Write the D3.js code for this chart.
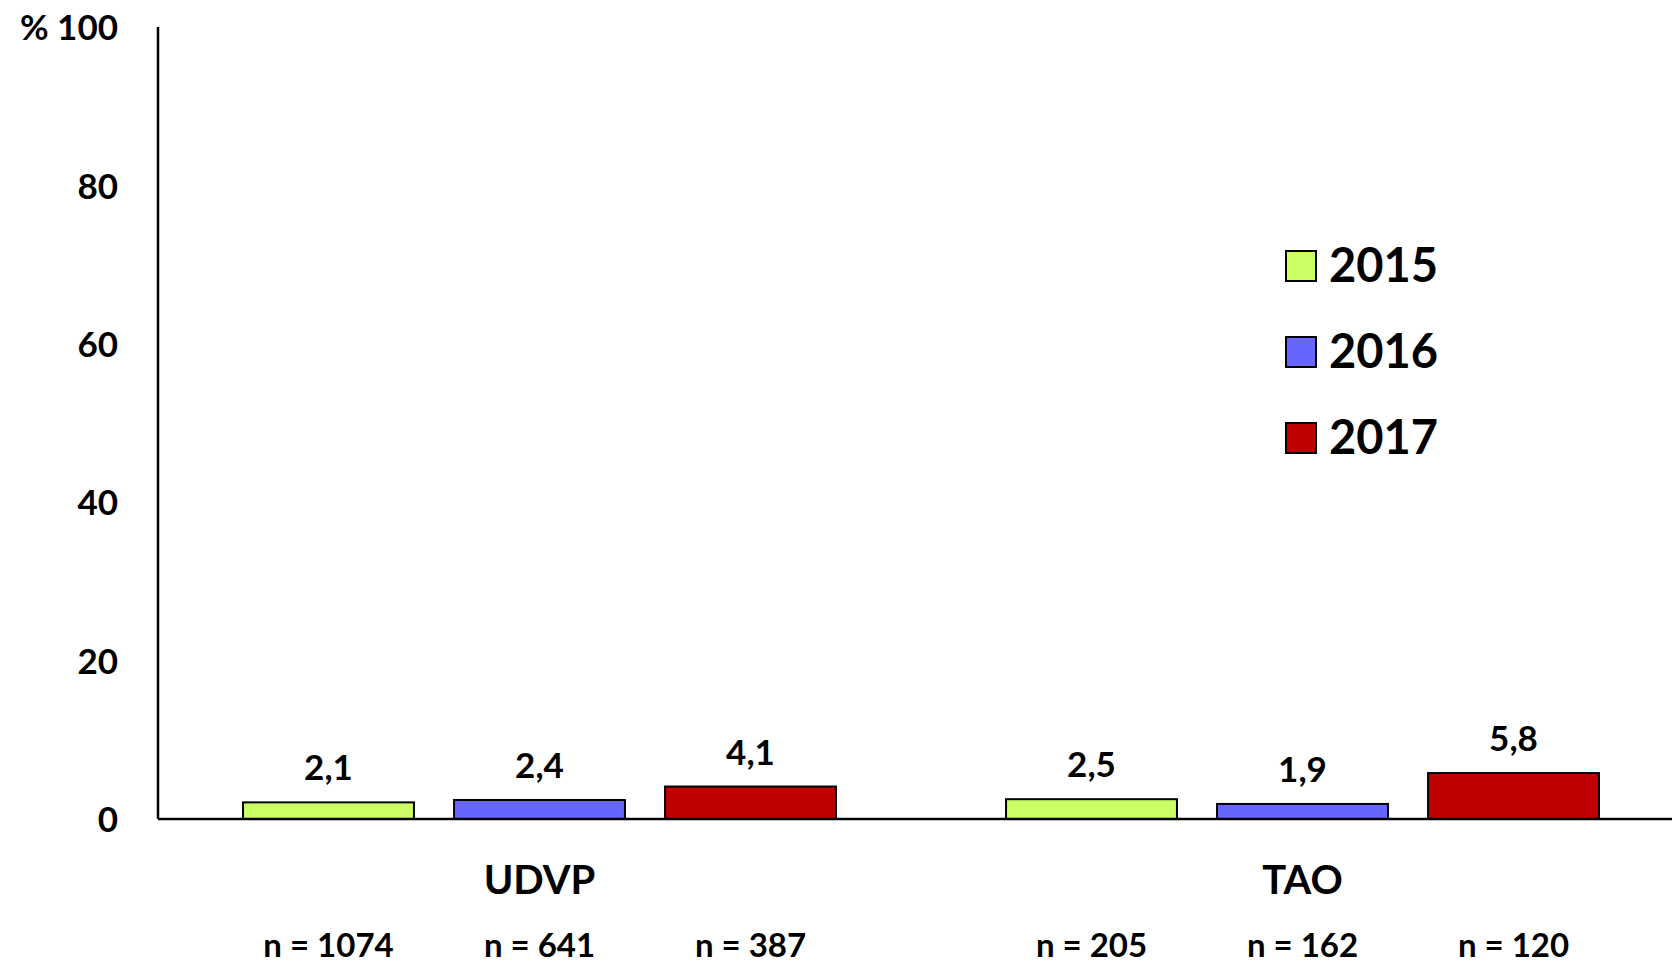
<!DOCTYPE html>
<html>
<head>
<meta charset="utf-8">
<script src="https://cdn.jsdelivr.net/npm/d3@7"></script>
<style>
  body { margin: 0; background: #fff; }
  text { font-family: Lato, "Open Sans", sans-serif; font-weight: bold; fill: #000; }
</style>
</head>
<body>
<div id="chart"></div>
<script>
var groups = ['UDVP', 'TAO'];
var years = ['2015', '2016', '2017'];
var colors = ['#ccff66', '#6666ff', '#c00000'];
var values = {
  UDVP: [2.1, 2.4, 4.1],
  TAO: [2.5, 1.9, 5.8]
};
var counts = {
  UDVP: [1074, 641, 387],
  TAO: [205, 162, 120]
};
var yTicks = [0, 20, 40, 60, 80, 100];

var chartWidth = 1672;
var chartHeight = 963;
var plotLeft = 158;
var plotRight = 1684;   // plot runs a bit past the picture edge
var plotTop = 27;
var plotBottom = 819;

var svg = d3.select('#chart')
    .append('svg')
    .attr('width', chartWidth)
    .attr('height', chartHeight);

// Scales
var scaleX = d3.scaleBand()
    .domain(groups)
    .range([plotLeft, plotRight])
    .padding(0);

var scaleInner = d3.scaleBand()
    .domain(years)
    .range([0, scaleX.bandwidth()])
    .paddingInner(0.19)
    .paddingOuter(0.403);

var scaleY = d3.scaleLinear()
    .domain([0, 100])
    .range([plotBottom, plotTop]);

var color = d3.scaleOrdinal()
    .domain(years)
    .range(colors);

// Y axis (labels only, plain line)
var yAxis = d3.axisLeft(scaleY)
    .tickValues(yTicks)
    .tickSize(0)
    .tickPadding(40)
    .tickFormat(function(d) {
      return d === 100 ? '% 100' : d;
    });

svg.append('g')
    .attr('transform', 'translate(' + plotLeft + ',0)')
    .call(yAxis)
    .call(function(g) {
      g.select('.domain').remove();
      g.selectAll('text')
          .attr('font-family', 'Lato, sans-serif')
          .attr('font-weight', 'bold')
          .attr('font-size', 35)
          .attr('dy', '0.36em')
          .attr('fill', '#000');
    });

svg.append('line')
    .attr('x1', plotLeft)
    .attr('x2', plotLeft)
    .attr('y1', plotTop)
    .attr('y2', plotBottom)
    .attr('stroke', '#000')
    .attr('stroke-width', 2.5);

// Flatten data
var rows = [];
groups.forEach(function(g) {
  years.forEach(function(y, i) {
    rows.push({group: g, year: y, value: values[g][i], n: counts[g][i]});
  });
});

function barX(d) {
  return scaleX(d.group) + scaleInner(d.year);
}

// Bars
svg.selectAll('rect.bar')
    .data(rows)
    .enter()
    .append('rect')
    .attr('class', 'bar')
    .attr('x', barX)
    .attr('y', function(d) { return scaleY(d.value); })
    .attr('width', scaleInner.bandwidth())
    .attr('height', function(d) { return scaleY(0) - scaleY(d.value); })
    .attr('fill', function(d) { return color(d.year); })
    .attr('stroke', '#000')
    .attr('stroke-width', 2);

// Baseline
svg.append('line')
    .attr('x1', plotLeft)
    .attr('x2', plotRight)
    .attr('y1', plotBottom)
    .attr('y2', plotBottom)
    .attr('stroke', '#000')
    .attr('stroke-width', 2.5);

// Value labels
svg.selectAll('text.val')
    .data(rows)
    .enter()
    .append('text')
    .attr('class', 'val')
    .attr('x', function(d) { return barX(d) + scaleInner.bandwidth() / 2; })
    .attr('y', function(d) { return scaleY(d.value) - 22; })
    .attr('text-anchor', 'middle')
    .attr('font-size', 35)
    .text(function(d) { return String(d.value).replace('.', ','); });

// n labels
svg.selectAll('text.n')
    .data(rows)
    .enter()
    .append('text')
    .attr('class', 'n')
    .attr('x', function(d) { return barX(d) + scaleInner.bandwidth() / 2; })
    .attr('y', 957)
    .attr('text-anchor', 'middle')
    .attr('font-size', 33)
    .text(function(d) { return 'n = ' + d.n; });

// Group labels
svg.selectAll('text.grp')
    .data(groups)
    .enter()
    .append('text')
    .attr('class', 'grp')
    .attr('x', function(d) { return scaleX(d) + scaleX.bandwidth() / 2; })
    .attr('y', 894)
    .attr('text-anchor', 'middle')
    .attr('font-size', 40)
    .text(function(d) { return d; });

// Legend
var legend = svg.append('g')
    .attr('transform', 'translate(1286,251)');

var item = legend.selectAll('g')
    .data(years)
    .enter()
    .append('g')
    .attr('transform', function(d, i) { return 'translate(0,' + i * 86 + ')'; });

item.append('rect')
    .attr('width', 30)
    .attr('height', 30)
    .attr('fill', function(d) { return color(d); })
    .attr('stroke', '#000')
    .attr('stroke-width', 2);

item.append('text')
    .attr('x', 43)
    .attr('y', 31)
    .attr('font-size', 47)
    .text(function(d) { return d; });
</script>
</body>
</html>
